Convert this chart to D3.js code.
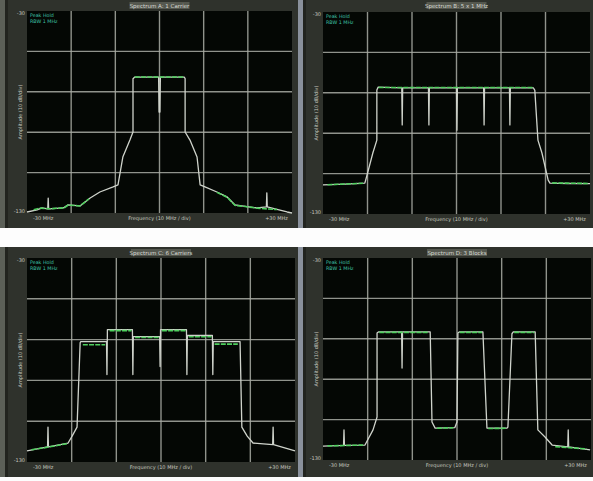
<!DOCTYPE html>
<html><head><meta charset="utf-8">
<script src="https://cdn.jsdelivr.net/npm/d3@7"></script>
<style>body{margin:0;background:#fff;}svg{display:block;}</style>
</head><body>
<script>
// ---------- DATA ----------
const panelTitles = ["Spectrum A: 1 Carrier", "Spectrum B: 5 x 1 MHz", "Spectrum C: 6 Carriers", "Spectrum D: 3 Blocks"];
const yTopLabel = "-30";
const yBottomLabel = "-130";
const xLeftLabel = "-30 MHz";
const xCenterLabel = "Frequency (10 MHz / div)";
const xRightLabel = "+30 MHz";
const yAxisLabel = "Amplitude (10 dB/div)";
const legendLines = ["Peak Hold", "RBW 1 MHz"];

// frequency offset (MHz) , level (dB)
const trace1 = [[-30,-99.5],[-27.7,-98.5],[-26.6,-97.5],[-25.3,-98],[-25.2,-92.6],[-25.1,-98],[-21.8,-97.5],[-20.7,-96],[-18,-96.5],[-15.7,-92.6],[-13.5,-89.6],[-10.5,-87.1],[-9.4,-86.1],[-8.3,-72.3],[-6.7,-63.9],[-6.0,-59.9],[-6.0,-33.5],[-5.6,-32.7],[-0.2,-32.7],[-0.1,-50],[0.1,-50],[0.2,-32.7],[5.6,-32.7],[5.8,-33.5],[5.8,-59.9],[6.9,-63.9],[8.5,-72.3],[9.2,-86.1],[10.3,-87.1],[13.0,-89.6],[15.3,-92],[17.1,-96],[19.8,-96.8],[22.1,-97.5],[24.2,-97],[24.3,-90],[24.4,-97],[26.6,-98.2],[28.9,-99.5],[30,-100]];
const green1 = [[-28.5,-98.4],[-27,-97.6],[-24.8,-97.9],[-21.5,-97.4],[-20.7,-96.1],[-18,-96.5],[-16,-93],null,[-5.6,-32.7],[5.6,-32.7],null,[13,-89.8],[15.3,-92.2],[17.1,-96.2],[19.8,-96.9],[22.1,-97.6],[26.6,-98.3]];

const trace2 = [[-30,-85.6],[-25,-85.2],[-20.6,-84.7],[-20.1,-80.7],[-18.8,-69.8],[-17.9,-63.4],[-17.9,-38.6],[-17.6,-37.2],[-12.3,-37.6],[-12.2,-55.9],[-12.1,-37.6],[-6.3,-37.6],[-6.2,-55.9],[-6.1,-37.6],[0,-37.6],[0.1,-58.5],[0.2,-37.6],[6.1,-37.6],[6.2,-55.9],[6.3,-37.6],[11.9,-37.6],[12.0,-55.9],[12.1,-37.6],[17.3,-37.6],[17.6,-38.8],[18.3,-63.4],[19.2,-69.8],[20.6,-83.2],[21.0,-84.7],[25,-84.9],[30,-85]];
const green2 = [[-29,-85.5],[-21,-84.8],null,[-17.5,-37.4],[17.3,-37.4],null,[21.5,-84.6],[29.5,-84.9]];

const trace3 = [[-30,-94.6],[-25.4,-92.6],[-25.3,-82.9],[-25.2,-92.6],[-20.8,-90.7],[-19.9,-87.3],[-18.8,-82.9],[-18.1,-41.5],[-18,-41],[-12.2,-41],[-12.1,-57.1],[-12.0,-35.1],[-6.4,-35.1],[-6.3,-57.1],[-6.2,-38.5],[-0.3,-38.5],[-0.2,-53.2],[-0.1,-35.1],[5.7,-35.1],[5.8,-57.1],[5.9,-38],[11.5,-38],[11.6,-57.1],[11.7,-41],[17.7,-41],[18.1,-82.9],[19.3,-87.3],[20.6,-90.7],[25,-91.5],[25.1,-82.9],[25.2,-91.5],[30,-94.6]];
const green3 = [[-29,-94],[-26,-93],[-21,-91],null,[-17.5,-42.5],[-12.5,-42.5],null,[-11.5,-35.6],[-6.6,-35.6],null,[-5.8,-39],[-0.5,-39],null,[0.2,-35.6],[5.5,-35.6],null,[6.2,-38.6],[11.3,-38.6],null,[12,-42.2],[17.2,-42.2]];

const trace4 = [[-30,-93.1],[-25.4,-92.8],[-25.3,-85.1],[-25.2,-92.8],[-20.6,-92.6],[-18.8,-85.1],[-17.9,-78.7],[-17.9,-37.1],[-17.6,-36.6],[-12.4,-36.6],[-12.3,-54.5],[-12.2,-36.6],[-6.0,-36.6],[-5.6,-81.2],[-4.9,-84.2],[-0.5,-84],[0,-81.2],[0.2,-37.1],[0.5,-36.6],[5.8,-36.6],[6.7,-84.2],[11.2,-84.2],[11.4,-83.7],[12.3,-37.5],[12.6,-36.6],[17.5,-36.6],[18.1,-85.1],[19.7,-88.6],[21.3,-92.6],[24.8,-93.5],[24.9,-85.1],[25.0,-93.5],[29.8,-95]];
const green4 = [[-29,-93],[-21,-92.6],null,[-17.4,-36.8],[-6.3,-36.8],null,[-4.5,-84.3],[-0.8,-84],null,[0.6,-36.8],[5.6,-36.8],null,[7,-84.4],[11,-84.3],null,[12.8,-36.8],[17.3,-36.8],null,[22,-93.4],[29,-94.5]];

const traces = [trace1, trace2, trace3, trace4];
const greens = [green1, green2, green3, green4];

const xDomain = [-30, 30];
const yDomain = [-100, 0];
const xGridStep = 10, yGridStep = 20;

// ---------- LAYOUT ----------
const W = 593, H = 481;
const panels = [
  {ox:0,   oy:0,   ow:298, oh:228, px:27,  py:11,  pw:265, ph:202},
  {ox:298, oy:0,   ow:295, oh:228, px:323, py:12,  pw:267, ph:202},
  {ox:0,   oy:247, ow:298, oh:230, px:27,  py:258, pw:268, ph:204},
  {ox:298, oy:247, ow:295, oh:230, px:323, py:258, pw:268, ph:202}
];

const svg = d3.select("body").append("svg").attr("width", W).attr("height", H);
svg.append("rect").attr("width", W).attr("height", H).attr("fill", "#fdfdfd");

panels.forEach((p, i) => {
  const g = svg.append("g");
  // frame
  g.append("rect").attr("x", p.ox).attr("y", p.oy).attr("width", p.ow).attr("height", p.oh).attr("fill", "#2f322c");
  g.append("rect").attr("x", p.ox).attr("y", p.oy).attr("width", 5).attr("height", p.oh).attr("fill", i % 2 ? "#8a919c" : "#5c6058");
  g.append("rect").attr("x", p.ox + 5).attr("y", p.oy).attr("width", 3).attr("height", p.oh).attr("fill", "#22241f");
  // title
  g.append("rect").attr("x", p.px + p.pw / 2 - 30).attr("y", p.oy + 2).attr("width", 60).attr("height", 7).attr("fill", "#55584f");
  g.append("text").attr("x", p.px + p.pw / 2).attr("y", p.oy + 7.8).attr("text-anchor", "middle")
    .attr("font-family", "DejaVu Sans").attr("font-size", 5.5).attr("fill", "#d8dad4").text(panelTitles[i]);
  // plot area
  g.append("rect").attr("x", p.px).attr("y", p.py).attr("width", p.pw).attr("height", p.ph).attr("fill", "#040704");

  const x = d3.scaleLinear().domain(xDomain).range([p.px, p.px + p.pw]);
  const y = d3.scaleLinear().domain(yDomain).range([p.py + p.ph, p.py]);

  const xt = d3.range(xDomain[0], xDomain[1] + 0.1, xGridStep);
  const yt = d3.range(yDomain[0], yDomain[1] + 0.1, yGridStep);
  g.selectAll(null).data(xt.slice(1, -1)).enter().append("line")
    .attr("x1", d => x(d)).attr("x2", d => x(d)).attr("y1", p.py).attr("y2", p.py + p.ph)
    .attr("stroke", "#a9aca4").attr("stroke-width", 1.4).attr("opacity", 0.85);
  g.selectAll(null).data(yt.slice(1, -1)).enter().append("line")
    .attr("y1", d => y(d)).attr("y2", d => y(d)).attr("x1", p.px).attr("x2", p.px + p.pw)
    .attr("stroke", "#a9aca4").attr("stroke-width", 1.4).attr("opacity", 0.85);

  // axis labels
  const small = {"font-family": "DejaVu Sans", "font-size": 5, "fill": "#c4c7bf"};
  const txt = (sx, sy, s, anchor) => {
    const t = g.append("text").attr("x", sx).attr("y", sy).attr("text-anchor", anchor || "start").text(s);
    Object.entries(small).forEach(([k, v]) => t.attr(k, v));
    return t;
  };
  txt(p.px - 2, y(yDomain[1]) + 4, yTopLabel, "end");
  txt(p.px - 2, y(yDomain[0]), yBottomLabel, "end");
  txt(p.px + 6, p.py + p.ph + 7, xLeftLabel);
  txt(p.px + p.pw / 2, p.py + p.ph + 7, xCenterLabel, "middle");
  txt(p.px + p.pw - 4, p.py + p.ph + 7, xRightLabel, "end");
  txt(0, 0, yAxisLabel, "middle").attr("transform", `translate(${p.px - 5},${p.py + p.ph / 2}) rotate(-90)`);
  legendLines.forEach((s, k) => {
    g.append("text").attr("x", p.px + 3).attr("y", p.py + 6 + k * 5.5)
      .attr("font-family", "DejaVu Sans").attr("font-size", 4.8).attr("fill", "#3fc4a8").text(s);
  });

  const line = d3.line().defined(d => d != null).x(d => x(d[0])).y(d => y(d[1]));
  g.append("path").datum(traces[i]).attr("d", line).attr("fill", "none")
    .attr("stroke", "#cfd3cb").attr("stroke-width", 1.3).attr("stroke-linejoin", "round");
  g.append("path").datum(greens[i]).attr("d", line).attr("fill", "none")
    .attr("stroke", "#4fcf5e").attr("stroke-width", 1.6).attr("stroke-dasharray", "5,1.2");
});
</script>
</body></html>
